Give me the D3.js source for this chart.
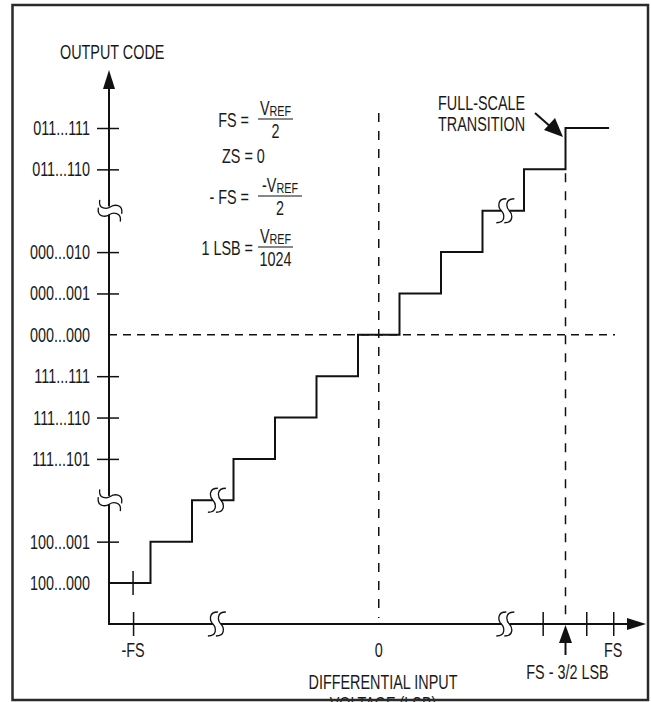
<!DOCTYPE html>
<html>
<head>
<meta charset="utf-8">
<script src="https://cdn.jsdelivr.net/npm/d3@7"></script>
<style>
  body { margin: 0; background: #fff; }
  svg text { font-family: "Liberation Sans", Arial, sans-serif; font-size: 20px; fill: #1a1a1a; }
</style>
</head>
<body>
<div id="chart"></div>
<script>
// output codes, top to bottom ("" = break in the axis)
const yCodes = ["011...111", "011...110", "", "000...010", "000...001", "000...000",
                "111...111", "111...110", "111...101", "", "100...001", "100...000"];
const yTickIdx = [0, 1, 3, 4, 6, 7, 8, 10];
const yBreakIdx = [2, 9];
const zeroCode = 5;

// staircase: edges in LSB steps and the code level of each step
const stepEdges = [0, 1, 2, 3, 4, 5, 6, 7, 8, 9, 10, 11, 12.05];
const stepLevels = [11, 10, 9, 8, 7, 6, 5, 4, 3, 2, 1, 0];
const stepBreaks = [[2.6, 9], [9.55, 2]];

// x axis
const xLabels = ["-FS", "0", "FS"];
const xLabelPos = [0.58, 6.5, 12.15];
const xTickPos = [0.58, 10.45, 11.5, 12.15];
const xBreaks = [2.6, 9.55];
const transitionPos = 11;

const width = 651, height = 702;
const ox = 109, oy = 624;
const narrow = 0.72; // condensed look of the original type

let svg = d3.select("#chart").append("svg")
  .attr("width", width)
  .attr("height", height);

let x = d3.scaleLinear().domain([0, 12]).range([ox, 607]);
let y = d3.scaleLinear().domain([0, 11]).range([128, 583]);

function label(px, py, str, anchor) {
  return svg.append("text")
    .attr("transform", "translate(" + px + "," + py + ") scale(" + narrow + ",1)")
    .attr("text-anchor", anchor || "start")
    .text(str);
}

////////////////
// dashed lines
////////////////
svg.append("line")
  .attr("x1", ox).attr("x2", 615)
  .attr("y1", y(zeroCode)).attr("y2", y(zeroCode))
  .attr("stroke", "#111").attr("stroke-width", 1.5)
  .attr("stroke-dasharray", "8,6");
svg.append("line")
  .attr("x1", x(xLabelPos[1])).attr("x2", x(xLabelPos[1]))
  .attr("y1", 113).attr("y2", 618)
  .attr("stroke", "#111").attr("stroke-width", 1.5)
  .attr("stroke-dasharray", "9,9");
svg.append("line")
  .attr("x1", x(transitionPos)).attr("x2", x(transitionPos))
  .attr("y1", y(1) + 4).attr("y2", 620)
  .attr("stroke", "#111").attr("stroke-width", 1.5)
  .attr("stroke-dasharray", "9,9");

////////////////
// staircase
////////////////
let stairs = stepEdges.map((e, i) => [e, stepLevels[Math.min(i, stepLevels.length - 1)]]);
svg.append("path")
  .attr("d", d3.line().x(d => x(d[0])).y(d => y(d[1])).curve(d3.curveStepAfter)(stairs))
  .attr("fill", "none")
  .attr("stroke", "#111")
  .attr("stroke-width", 2);

////////////////
// axes
////////////////
svg.append("line")
  .attr("x1", ox).attr("x2", ox).attr("y1", 86).attr("y2", oy)
  .attr("stroke", "#111").attr("stroke-width", 2);
svg.append("line")
  .attr("x1", ox - 1).attr("x2", 630).attr("y1", oy).attr("y2", oy)
  .attr("stroke", "#111").attr("stroke-width", 2);

// y arrow
svg.append("path")
  .attr("d", "M" + ox + ",70L" + (ox - 6) + ",89L" + (ox + 6) + ",89Z")
  .attr("fill", "#111");
// x arrow
svg.append("path")
  .attr("d", "M646," + oy + "L627," + (oy - 6) + "L627," + (oy + 6) + "Z")
  .attr("fill", "#111");

let yAxis = d3.axisLeft(y)
  .tickValues(yTickIdx)
  .tickSize(10)
  .tickFormat("");
let gy = svg.append("g").attr("transform", "translate(" + ox + ",0)").call(yAxis);
gy.select(".domain").remove();
gy.selectAll(".tick line").attr("x1", 10).attr("x2", -12).attr("stroke", "#111").attr("stroke-width", 1.5);

// code labels
yCodes.forEach((c, i) => {
  if (c) label(ox - 19, y(i) + 7, c, "end");
});

let xAxis = d3.axisBottom(x)
  .tickValues(xTickPos)
  .tickSize(12)
  .tickFormat("");
let gx = svg.append("g").attr("transform", "translate(0," + oy + ")").call(xAxis);
gx.select(".domain").remove();
gx.selectAll(".tick line").attr("y1", -12).attr("stroke", "#111").attr("stroke-width", 1.5);

// -FS mark on the first step
svg.append("line")
  .attr("x1", x(xLabelPos[0])).attr("x2", x(xLabelPos[0]))
  .attr("y1", y(11) - 12).attr("y2", y(11) + 12)
  .attr("stroke", "#111").attr("stroke-width", 1.5);

xLabels.forEach((d, i) => label(x(xLabelPos[i]), 657, d, "middle"));

////////////////
// break marks
////////////////
function breakMark(cx, cy, rot) {
  let g = svg.append("g").attr("transform", "translate(" + cx + "," + cy + ") rotate(" + rot + ")");
  g.append("rect").attr("x", -4).attr("y", -3).attr("width", 8).attr("height", 6).attr("fill", "#fff");
  [-4, 4].forEach(dx => {
    g.append("path")
      .attr("d", "M" + (dx + 5) + ",-12C" + (dx - 5) + ",-12 " + (dx - 3) + ",-3 " + dx + ",0S" + (dx + 5) + ",12 " + (dx - 5) + ",12")
      .attr("fill", "none").attr("stroke", "#111").attr("stroke-width", 1.3);
  });
}
xBreaks.forEach(b => breakMark(x(b), oy, 0));
stepBreaks.forEach(b => breakMark(x(b[0]), y(b[1]), 0));
yBreakIdx.forEach(i => breakMark(ox + 1, y(i), -80));

////////////////
// transition arrow
////////////////
let tx = x(transitionPos);
svg.append("line")
  .attr("x1", tx).attr("x2", tx).attr("y1", 640).attr("y2", 655)
  .attr("stroke", "#111").attr("stroke-width", 2);
svg.append("path")
  .attr("d", "M" + tx + ",625L" + (tx - 6.5) + ",643L" + (tx + 6.5) + ",643Z")
  .attr("fill", "#111");
label(tx + 2, 679, "FS - 3/2 LSB", "middle");

// full-scale transition callout
svg.append("line")
  .attr("x1", 535).attr("y1", 113).attr("x2", 552).attr("y2", 128)
  .attr("stroke", "#111").attr("stroke-width", 2);
svg.append("path")
  .attr("d", "M563,137L544,130L555,118Z")
  .attr("fill", "#111");
label(438, 110, "FULL-SCALE");
label(438, 131, "TRANSITION");

////////////////
// titles
////////////////
label(60, 59, "OUTPUT CODE");
label(383, 689, "DIFFERENTIAL INPUT", "middle");
label(383, 711, "VOLTAGE (LSB)", "middle");

////////////////
// formulas
////////////////
function fraction(lhs, lhsX, barX1, barX2, barY, num, den) {
  label(lhsX, barY + 8, lhs, "end");
  svg.append("line")
    .attr("x1", barX1).attr("x2", barX2).attr("y1", barY).attr("y2", barY)
    .attr("stroke", "#111").attr("stroke-width", 1.2);
  let mid = (barX1 + barX2) / 2;
  let t = label(mid, barY - 4, "", "middle");
  t.append("tspan").text(num + "V");
  t.append("tspan").attr("font-size", "15px").attr("dy", 1).text("REF");
  label(mid, barY + 19, den, "middle");
}
fraction("FS =", 249, 258, 293, 119, "", "2");
label(222, 163, "ZS = 0");
fraction("- FS =", 249, 258, 302, 196, "-", "2");
fraction("1 LSB =", 253, 258, 293, 247, "", "1024");

////////////////
// frame
////////////////
svg.append("rect")
  .attr("x", 12.5).attr("y", 5).attr("width", 635.5).attr("height", 695)
  .attr("fill", "none").attr("stroke", "#2a2a2a").attr("stroke-width", 2.5);
</script>
</body>
</html>
